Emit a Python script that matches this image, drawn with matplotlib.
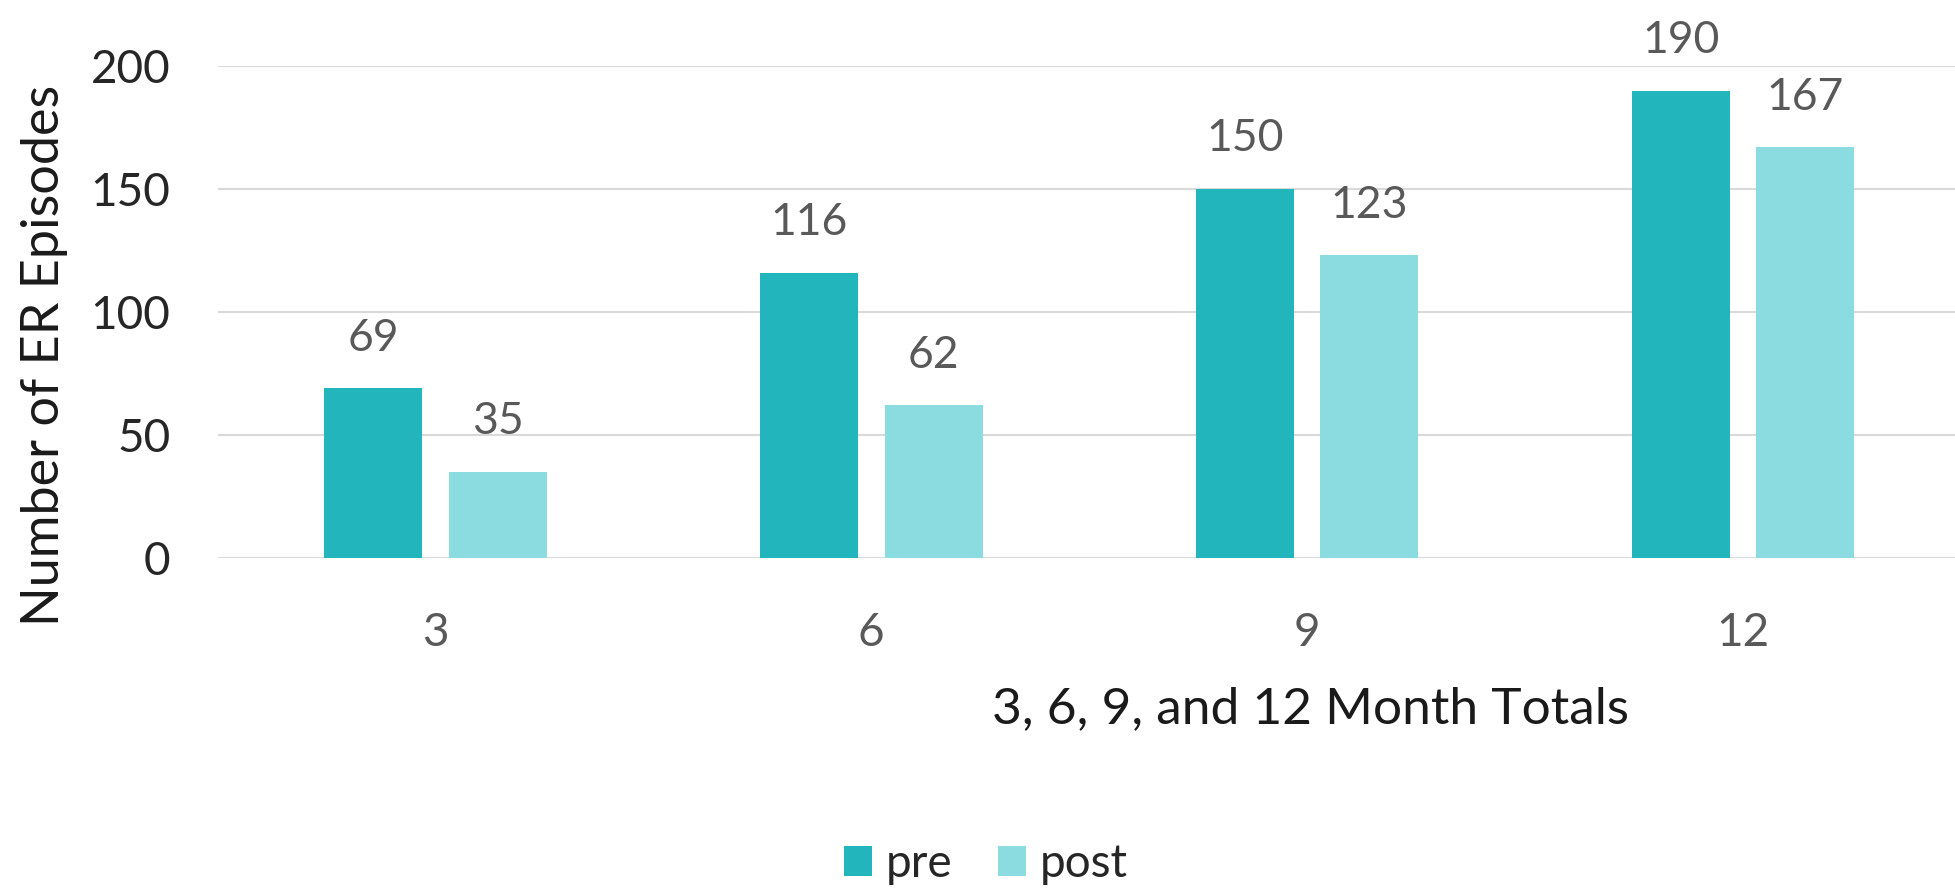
import matplotlib
matplotlib.use("Agg")
import matplotlib.pyplot as plt
import numpy as np

categories = ["3", "6", "9", "12"]
pre = [69, 116, 150, 190]
post = [35, 62, 123, 167]
series_names = ["pre", "post"]
y_ticks = [0, 50, 100, 150, 200]

plt.rcParams['font.family'] = ['Lato', 'DejaVu Sans']

PRE_C = "#22B5BC"
POST_C = "#8ADCE1"
TICK_C = "#595959"

fig = plt.figure(figsize=(19.56, 8.89), dpi=100)
ax = fig.add_axes([0.1112, 0.3723, 0.8913, 0.5535])

x = np.arange(len(categories))
w = 0.225
off = 0.143
b1 = ax.bar(x - off, pre, w, color=PRE_C, label=series_names[0], zorder=3)
b2 = ax.bar(x + off, post, w, color=POST_C, label=series_names[1], zorder=3)

for bars, vals in ((b1, pre), (b2, post)):
    for r, v in zip(bars, vals):
        ax.annotate(str(v), (r.get_x() + r.get_width() / 2, v),
                    xytext=(0, 27), textcoords="offset points",
                    ha="center", va="baseline", fontsize=32, color=TICK_C,
                    annotation_clip=False)

ax.set_xlim(-0.5, 3.5)
ax.set_ylim(0, 200)
ax.set_yticks(y_ticks)
ax.set_xticks(x)
ax.set_xticklabels(categories)
ax.yaxis.grid(True, color="#D9D9D9", linewidth=1.5, zorder=0)
ax.set_axisbelow(True)
for s in ax.spines.values():
    s.set_visible(False)
ax.tick_params(axis="both", length=0, labelsize=33, labelcolor=TICK_C)
ax.tick_params(axis="x", pad=39)
ax.tick_params(axis="y", pad=34, labelcolor="#262626")

fig.text(0.0225, 0.600, "Number of ER Episodes", rotation=90, ha="center",
         va="center", fontsize=37.5, color="#1A1A1A")
fig.text(0.670, 0.2025, "3, 6, 9, and 12 Month Totals", ha="center",
         va="center", fontsize=37, color="#1A1A1A")

leg = fig.legend(handles=[b1, b2], labels=series_names, loc="center",
                 bbox_to_anchor=(0.504, 0.028), ncol=2, frameon=False,
                 fontsize=33, handlelength=0.6, handleheight=0.6,
                 handletextpad=0.3, columnspacing=1.0)
for t in leg.get_texts():
    t.set_color("#262626")

fig.savefig("out.png", dpi=100)
